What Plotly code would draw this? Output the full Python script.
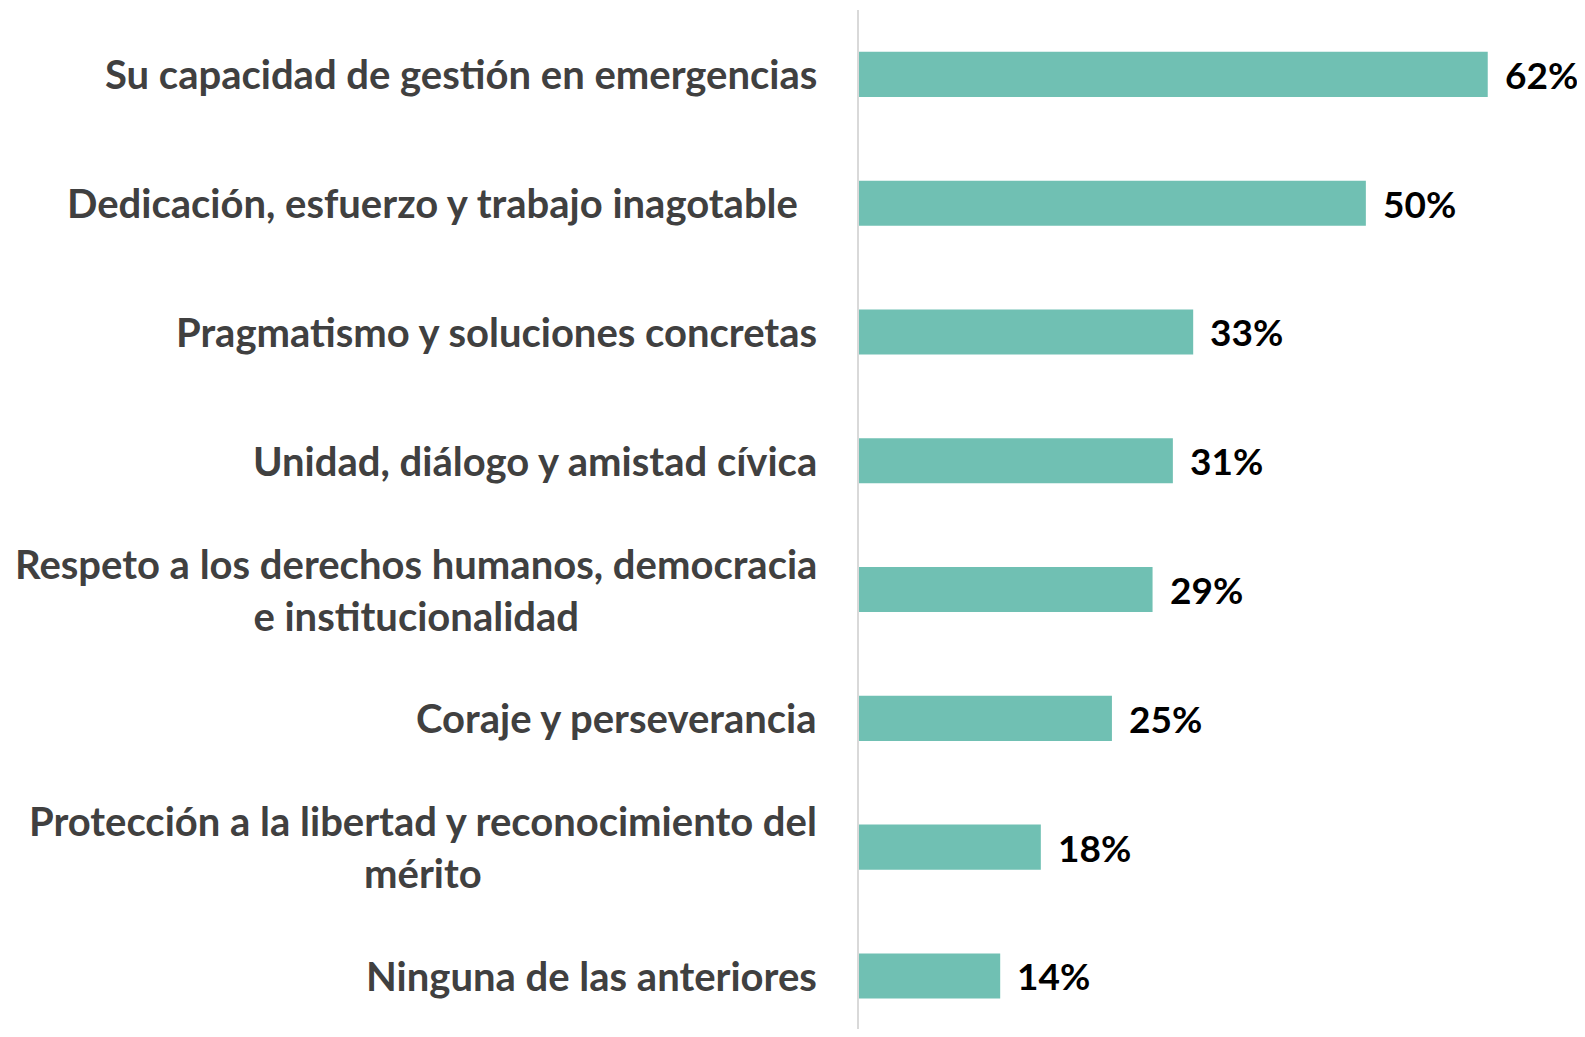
import plotly.graph_objects as go

categories = [
    "Su capacidad de gestión en emergencias",
    "Dedicación, esfuerzo y trabajo inagotable\u00a0\u00a0",
    "Pragmatismo y soluciones concretas",
    "Unidad, diálogo y amistad cívica",
    "Respeto a los derechos humanos, democracia<br>e institucionalidad",
    "Coraje y perseverancia",
    "Protección a la libertad y reconocimiento del<br>mérito",
    "Ninguna de las anteriores",
]
values = [62, 50, 33, 31, 29, 25, 18, 14]
value_labels = ["62%", "50%", "33%", "31%", "29%", "25%", "18%", "14%"]

# page body has an 8px default margin; size the figure to fit the viewport
W, H = 1569, 1021
L, R, T, B = 850, 8, 2, 0
FONT = "Lato"

fig = go.Figure()
fig.add_trace(go.Bar(
    x=values, y=list(range(len(categories))), orientation="h",
    marker=dict(color="#70c0b3", line=dict(width=0)),
    width=0.35, hoverinfo="skip",
))

ann = []
for i, (c, v, t) in enumerate(zip(categories, values, value_labels)):
    ann.append(dict(x=0, y=i, xref="paper", yref="y", text=c, showarrow=False,
                    xanchor="right", yanchor="middle", align="center", xshift=-39,
                    font=dict(family=FONT, size=40, color="#404040", weight="bold")))
    ann.append(dict(x=v, y=i, xref="x", yref="y", text=t, showarrow=False,
                    xanchor="left", yanchor="middle", xshift=15,
                    font=dict(family=FONT, size=37, color="#000000", weight="bold")))

fig.update_layout(
    width=W, height=H, margin=dict(l=L, r=R, t=T, b=B),
    paper_bgcolor="white", plot_bgcolor="white", showlegend=False,
    annotations=ann,
    xaxis=dict(range=[0, 70], visible=False, fixedrange=True),
    yaxis=dict(range=[7.412, -0.5], showticklabels=False,
               showgrid=False, zeroline=False, showline=False, ticks=""),
    shapes=[dict(type="line", xref="paper", yref="paper", x0=0, x1=0, y0=0, y1=1,
                 line=dict(color="#d9d9d9", width=2))],
)
fig.write_html("out.html")
